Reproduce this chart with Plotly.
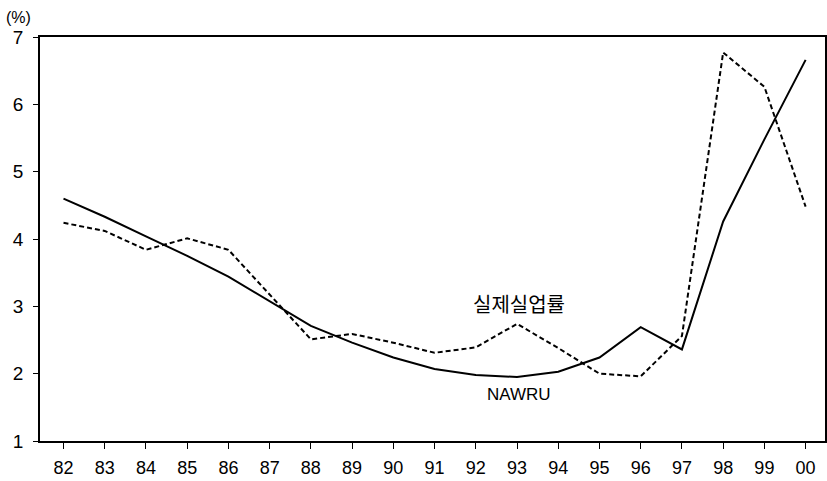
import plotly.graph_objects as go

years = ["82", "83", "84", "85", "86", "87", "88", "89", "90", "91",
         "92", "93", "94", "95", "96", "97", "98", "99", "00"]
actual = [4.24, 4.12, 3.84, 4.01, 3.84, 3.18, 2.51, 2.59, 2.46, 2.31,
          2.39, 2.74, 2.38, 2.0, 1.96, 2.56, 6.77, 6.26, 4.48]
nawru = [4.6, 4.33, 4.04, 3.75, 3.44, 3.08, 2.71, 2.46, 2.24, 2.07,
         1.98, 1.95, 2.03, 2.24, 2.69, 2.36, 4.26, 5.48, 6.66]
yticks = [1, 2, 3, 4, 5, 6, 7]

x = list(range(len(years)))
FONT = "Liberation Sans, Arial, sans-serif"

fig = go.Figure()
fig.add_trace(go.Scatter(x=x, y=actual, mode="lines", name="실제실업률",
                         line=dict(color="black", width=2, dash="5px,3px")))
fig.add_trace(go.Scatter(x=x, y=nawru, mode="lines", name="NAWRU",
                         line=dict(color="black", width=2)))

fig.update_layout(
    width=827, height=481,
    margin=dict(l=40, r=2, t=37, b=40),
    paper_bgcolor="white", plot_bgcolor="white",
    showlegend=False,
    font=dict(family=FONT, color="black", size=18),
    xaxis=dict(range=[-0.57, 18.47], tickmode="array", tickvals=x, ticktext=years,
               ticks="outside", ticklen=6, tickcolor="black", tickwidth=1,
               showline=True, linecolor="black", linewidth=1.5, mirror=True,
               showgrid=False, zeroline=False, automargin=False,
               ticklabelstandoff=4,
               tickfont=dict(size=18, family=FONT)),
    yaxis=dict(range=[1, 7], tickmode="array", tickvals=yticks,
               ticks="outside", ticklen=5, tickcolor="black", tickwidth=1,
               showline=True, linecolor="black", linewidth=1.5, mirror=True,
               showgrid=False, zeroline=False, automargin=False,
               ticklabelstandoff=6,
               tickfont=dict(size=19, family=FONT)),
    annotations=[
        dict(text="(%)", x=-0.028, y=1.0475, xref="paper", yref="paper", showarrow=False,
             font=dict(size=16, family=FONT), xanchor="center", yanchor="middle"),
        dict(text="실제실업률", x=11.05, y=3.04, xref="x", yref="y", showarrow=False,
             font=dict(size=20, family="Noto Sans CJK KR")),
        dict(text="NAWRU", x=11.05, y=1.69, xref="x", yref="y", showarrow=False,
             font=dict(size=17, family=FONT)),
    ],
)

fig.write_html("out.html", config={"displayModeBar": False},
               post_script="document.body.style.margin='0';document.body.style.overflow='hidden';")
